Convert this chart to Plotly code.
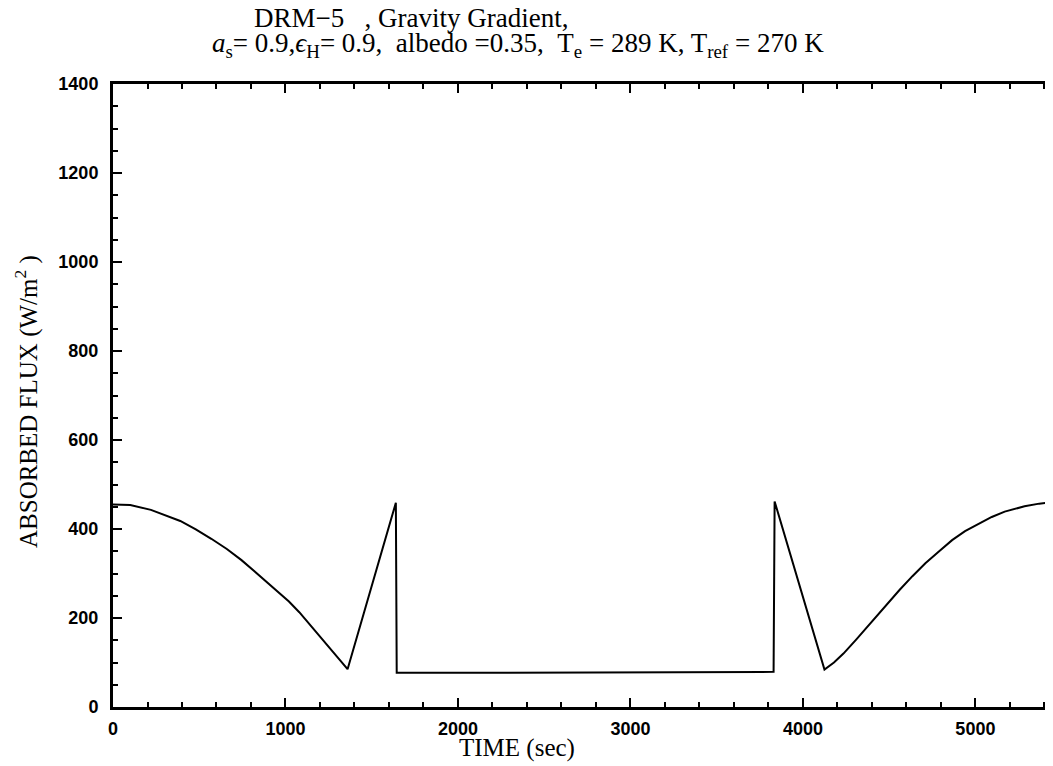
import plotly.graph_objects as go

# Data (time in s, absorbed flux in W/m^2)
time_s = [0, 100, 220, 300, 390, 480, 570, 660, 745, 820, 900, 960, 1020, 1080,
          1135, 1195, 1250, 1310, 1360,
          1640, 1645, 2200, 2800, 3400, 3830,
          3836, 4125, 4180, 4235, 4310, 4390, 4475, 4560, 4635, 4710, 4790,
          4865, 4940, 5020, 5095, 5170, 5230, 5285, 5370, 5450]
flux = [455, 454, 443, 432, 418, 399, 378, 355, 330, 305, 278, 258, 237, 213,
        188, 162, 136, 110, 85,
        459, 77, 77, 78, 78, 79,
        462, 84, 100, 120, 152, 188, 226, 263, 294, 323, 350,
        375, 395, 412, 427, 439, 446, 451, 457, 460]

x_ticks = [0, 1000, 2000, 3000, 4000, 5000]
y_ticks = [0, 200, 400, 600, 800, 1000, 1200, 1400]

title_line1 = "DRM\u22125\u00a0\u00a0\u00a0, Gravity Gradient,"
title_line2 = ("<i>a</i><sub>s</sub>= 0.9,<i>\u03f5</i><sub>H</sub>= 0.9,\u00a0\u00a0albedo =0.35,\u00a0\u00a0"
               "T<sub>e</sub> = 289 K, T<sub>ref</sub> = 270 K")
x_title = "TIME (sec)"
y_title = "ABSORBED FLUX (W/m<sup>2</sup> )"

OFF = 8  # page body margin
W, H = 1053 - OFF, 766 - OFF
# plot area in page pixels: x 113..1053, y 84..707
L, R, T, B = 113 - OFF, 0, 84 - OFF, 766 - 707
pw, ph = W - L - R, H - T - B

def px(xp):
    return (xp - OFF - L) / pw

def py(yp):
    return (H - B - (yp - OFF)) / ph

serif = "Liberation Serif, Times New Roman, serif"
tickfont = dict(family="Liberation Sans, Arial, sans-serif", size=18, color="black", weight="bold")

fig = go.Figure()
fig.add_trace(go.Scatter(x=time_s, y=flux, mode="lines",
                         line=dict(color="black", width=2), showlegend=False,
                         hoverinfo="skip"))

fig.update_layout(
    width=W, height=H,
    margin=dict(l=L, r=R, t=T, b=B),
    paper_bgcolor="white", plot_bgcolor="white",
    xaxis=dict(range=[0, 5450], tickvals=x_ticks, ticks="inside", ticklen=9, tickwidth=2,
               tickcolor="black", showline=True, linecolor="black", linewidth=3,
               mirror="ticks", showgrid=False, zeroline=False, tickfont=tickfont,
               ticklabelstandoff=3,
               minor=dict(ticks="inside", dtick=200, ticklen=5, tickwidth=1.5,
                          tickcolor="black", showgrid=False)),
    yaxis=dict(range=[0, 1400], tickvals=y_ticks, ticks="inside", ticklen=9, tickwidth=2,
               tickcolor="black", showline=True, linecolor="black", linewidth=3,
               mirror=False, showgrid=False, zeroline=False, tickfont=tickfont,
               ticklabelstandoff=8,
               minor=dict(ticks="inside", dtick=50, ticklen=5, tickwidth=1.5,
                          tickcolor="black", showgrid=False)),
)

fig.add_annotation(x=px(252), y=py(18), xref="paper", yref="paper", text=title_line1,
                   showarrow=False, xanchor="left", yanchor="middle",
                   font=dict(family=serif, size=27, color="black"))
fig.add_annotation(x=px(210), y=py(45), xref="paper", yref="paper", text=title_line2,
                   showarrow=False, xanchor="left", yanchor="middle",
                   font=dict(family=serif, size=27, color="black"))
fig.add_annotation(x=px(517), y=py(748), xref="paper", yref="paper", text=x_title,
                   showarrow=False, xanchor="center", yanchor="middle",
                   font=dict(family=serif, size=25, color="black"))
fig.add_annotation(x=px(26), y=py(402), xref="paper", yref="paper", text=y_title,
                   showarrow=False, xanchor="center", yanchor="middle", textangle=-90,
                   font=dict(family=serif, size=25, color="black"))

fig.write_html("out.html")
